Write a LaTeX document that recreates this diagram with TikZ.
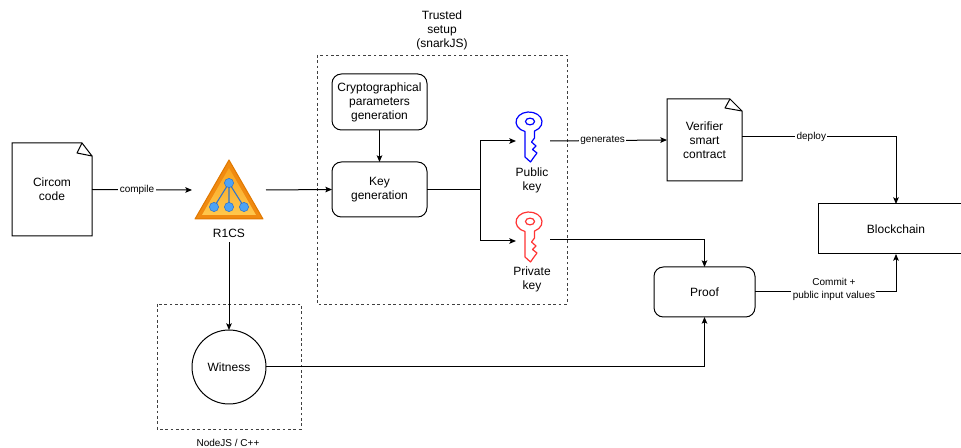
\documentclass[tikz,border=0pt]{standalone}
\usepackage{fontspec}
\setmainfont{Liberation Sans}
\usetikzlibrary{arrows.meta,calc,shapes.geometric}
\definecolor{orOut}{HTML}{F08A10}
\definecolor{orEdge}{HTML}{E07800}
\definecolor{orTop}{HTML}{F8A31E}
\definecolor{orBot}{HTML}{FFC84D}
\definecolor{bluC}{HTML}{4DA3F5}
\definecolor{bluE}{HTML}{2F74CC}
\definecolor{keyBlue}{HTML}{0000FF}
\definecolor{keyRed}{HTML}{FF3333}
\begin{document}
\begin{tikzpicture}[x=0.75pt,y=-0.75pt,line width=0.75pt,
  lbl/.style={font=\fontsize{9}{10.5}\selectfont,align=center},
  elbl/.style={font=\fontsize{7.5}{9.75}\selectfont,fill=white,inner sep=1pt,align=center},
  arr/.style={-{Stealth[length=5pt,width=4.2pt,inset=1pt]}},
  grp/.style={draw=black!75,line width=0.6pt,dash pattern=on 2pt off 2pt},
  rbox/.style={draw,rounded corners=7pt,inner sep=0pt,outer sep=0pt,lbl},
  ghost/.style={inner sep=0pt,outer sep=0pt},
  keyline/.style={line width=0.9pt,line join=round},
]
\useasboundingbox (0,0) rectangle (961,448);
\clip (0,0) rectangle (961,448);

% ---------- groups ----------
\draw[grp] (317,55) rectangle (567,304);
\node[lbl] (tslabel) at (442,30) {Trusted\\setup\\(snarkJS)};
\draw[grp] (157,304) rectangle (301,429);
\node[font=\fontsize{7.5}{9}\selectfont] (nodejs) at (228,443) {NodeJS / C++};

% ---------- Circom code document ----------
\draw (12,143) -- (82,143) -- (92,156) -- (92,236) -- (12,236) -- cycle;
\draw[line join=round] (82,143) -- (77,153) -- (92,156);
\node[ghost,lbl,minimum width=60pt,minimum height=69.75pt] (circom) at (52,189.5) {Circom\\code};

% ---------- R1CS icon ----------
\node[ghost,minimum width=55.5pt,minimum height=45pt] (r1cs) at (229,190) {};
\filldraw[fill=orOut,draw=orEdge,line join=round] (229,160) -- (263,219) -- (195,219) -- cycle;
\shade[top color=orTop,bottom color=orBot] (229,168) -- (256,215) -- (202,215) -- cycle;
\draw[bluE,line width=0.8pt] (229,183) -- (214,207) (229,183) -- (229,207) (229,183) -- (244,207);
\foreach \cx/\cy in {229/183,214/207,229/207,244/207}
  \filldraw[fill=bluC,draw=bluE,line width=0.4pt] (\cx,\cy) circle[radius=4.6];
\node[lbl] (r1cslabel) at (229,233) {R1CS};

% ---------- trusted setup ----------
\node[rbox,minimum width=71.25pt,minimum height=42pt] (crypto) at (379.5,102) {Cryptographical\\parameters\\generation};
\node[rbox,minimum width=71.25pt,minimum height=41.25pt] (keygen) at (379.5,189.5) {Key\\generation};

% keys
\node[ghost,minimum width=19.5pt,minimum height=31.5pt] (pubkey) at (529,141) {};
\node[ghost,minimum width=19.5pt,minimum height=31.5pt] (privkey) at (529,241) {};
\begin{scope}[shift={(516,112)}]
  \draw[keyline,keyBlue] (9,19.5) arc[start angle=108,end angle=425,x radius=13,y radius=10]
    -- (18.5,26) -- (15.5,30) -- (20,34) -- (16.5,37.5) -- (21,41) -- (18,45) -- (14.5,50) -- (9,45) -- cycle;
  \draw[keyline,keyBlue] (14,9.5) ellipse[x radius=4.5,y radius=3.4];
\end{scope}
\begin{scope}[shift={(516,212)}]
  \draw[keyline,keyRed] (9,19.5) arc[start angle=108,end angle=425,x radius=13,y radius=10]
    -- (18.5,26) -- (15.5,30) -- (20,34) -- (16.5,37.5) -- (21,41) -- (18,45) -- (14.5,50) -- (9,45) -- cycle;
  \draw[keyline,keyRed] (14,9.5) ellipse[x radius=4.5,y radius=3.4];
\end{scope}
\node[lbl] (publabel) at (532,180) {Public\\key};
\node[lbl] (privlabel) at (532,279.5) {Private\\key};

% ---------- verifier document ----------
\draw (667,99) -- (730,99) -- (742,111) -- (742,181) -- (667,181) -- cycle;
\draw[line join=round] (730,99) -- (725,108) -- (742,111);
\node[ghost,lbl,minimum width=56.25pt,minimum height=61.5pt] (verifier) at (704.5,140) {Verifier\\smart\\contract};

% ---------- blockchain, proof, witness ----------
\node[draw,ghost,lbl,minimum width=117pt,minimum height=37.5pt] (chain) at (896,229) {Blockchain};
\node[rbox,minimum width=75.75pt,minimum height=37.5pt] (proof) at (704.5,292) {Proof};
\node[draw,circle,ghost,lbl,minimum size=55.5pt] (witness) at (229,367) {Witness};

% ---------- connectors ----------
\draw[arr] (circom.east) -- node[elbl,pos=0.45] {compile} (r1cs.west);
\draw[arr] (r1cs.east) -- (keygen.west);
\draw[arr] (r1cslabel.south) -- (witness.north);
\draw[arr] (crypto.south) -- (keygen.north);
\coordinate (split) at (480,189.5);
\draw (keygen.east) -- (split);
\draw[arr] (split) |- (pubkey.west);
\draw[arr] (split) |- (privkey.west);
\draw[arr] ($(pubkey.east)+(8,0)$) -- node[elbl,pos=0.45] {generates} (verifier.west);
\draw[arr] ($(privkey.east)+(8,-1)$) -| (proof.north);
\draw[arr] ($(verifier.east)+(0,-3)$) -| node[elbl,pos=0.225] {deploy} (chain.north);
\draw[arr] (proof.east) -| node[elbl,pos=0.28,yshift=1.8pt] {Commit +\\public input values} (chain.south);
\draw[arr] (witness.east) -| (proof.south);
\end{tikzpicture}
\end{document}
